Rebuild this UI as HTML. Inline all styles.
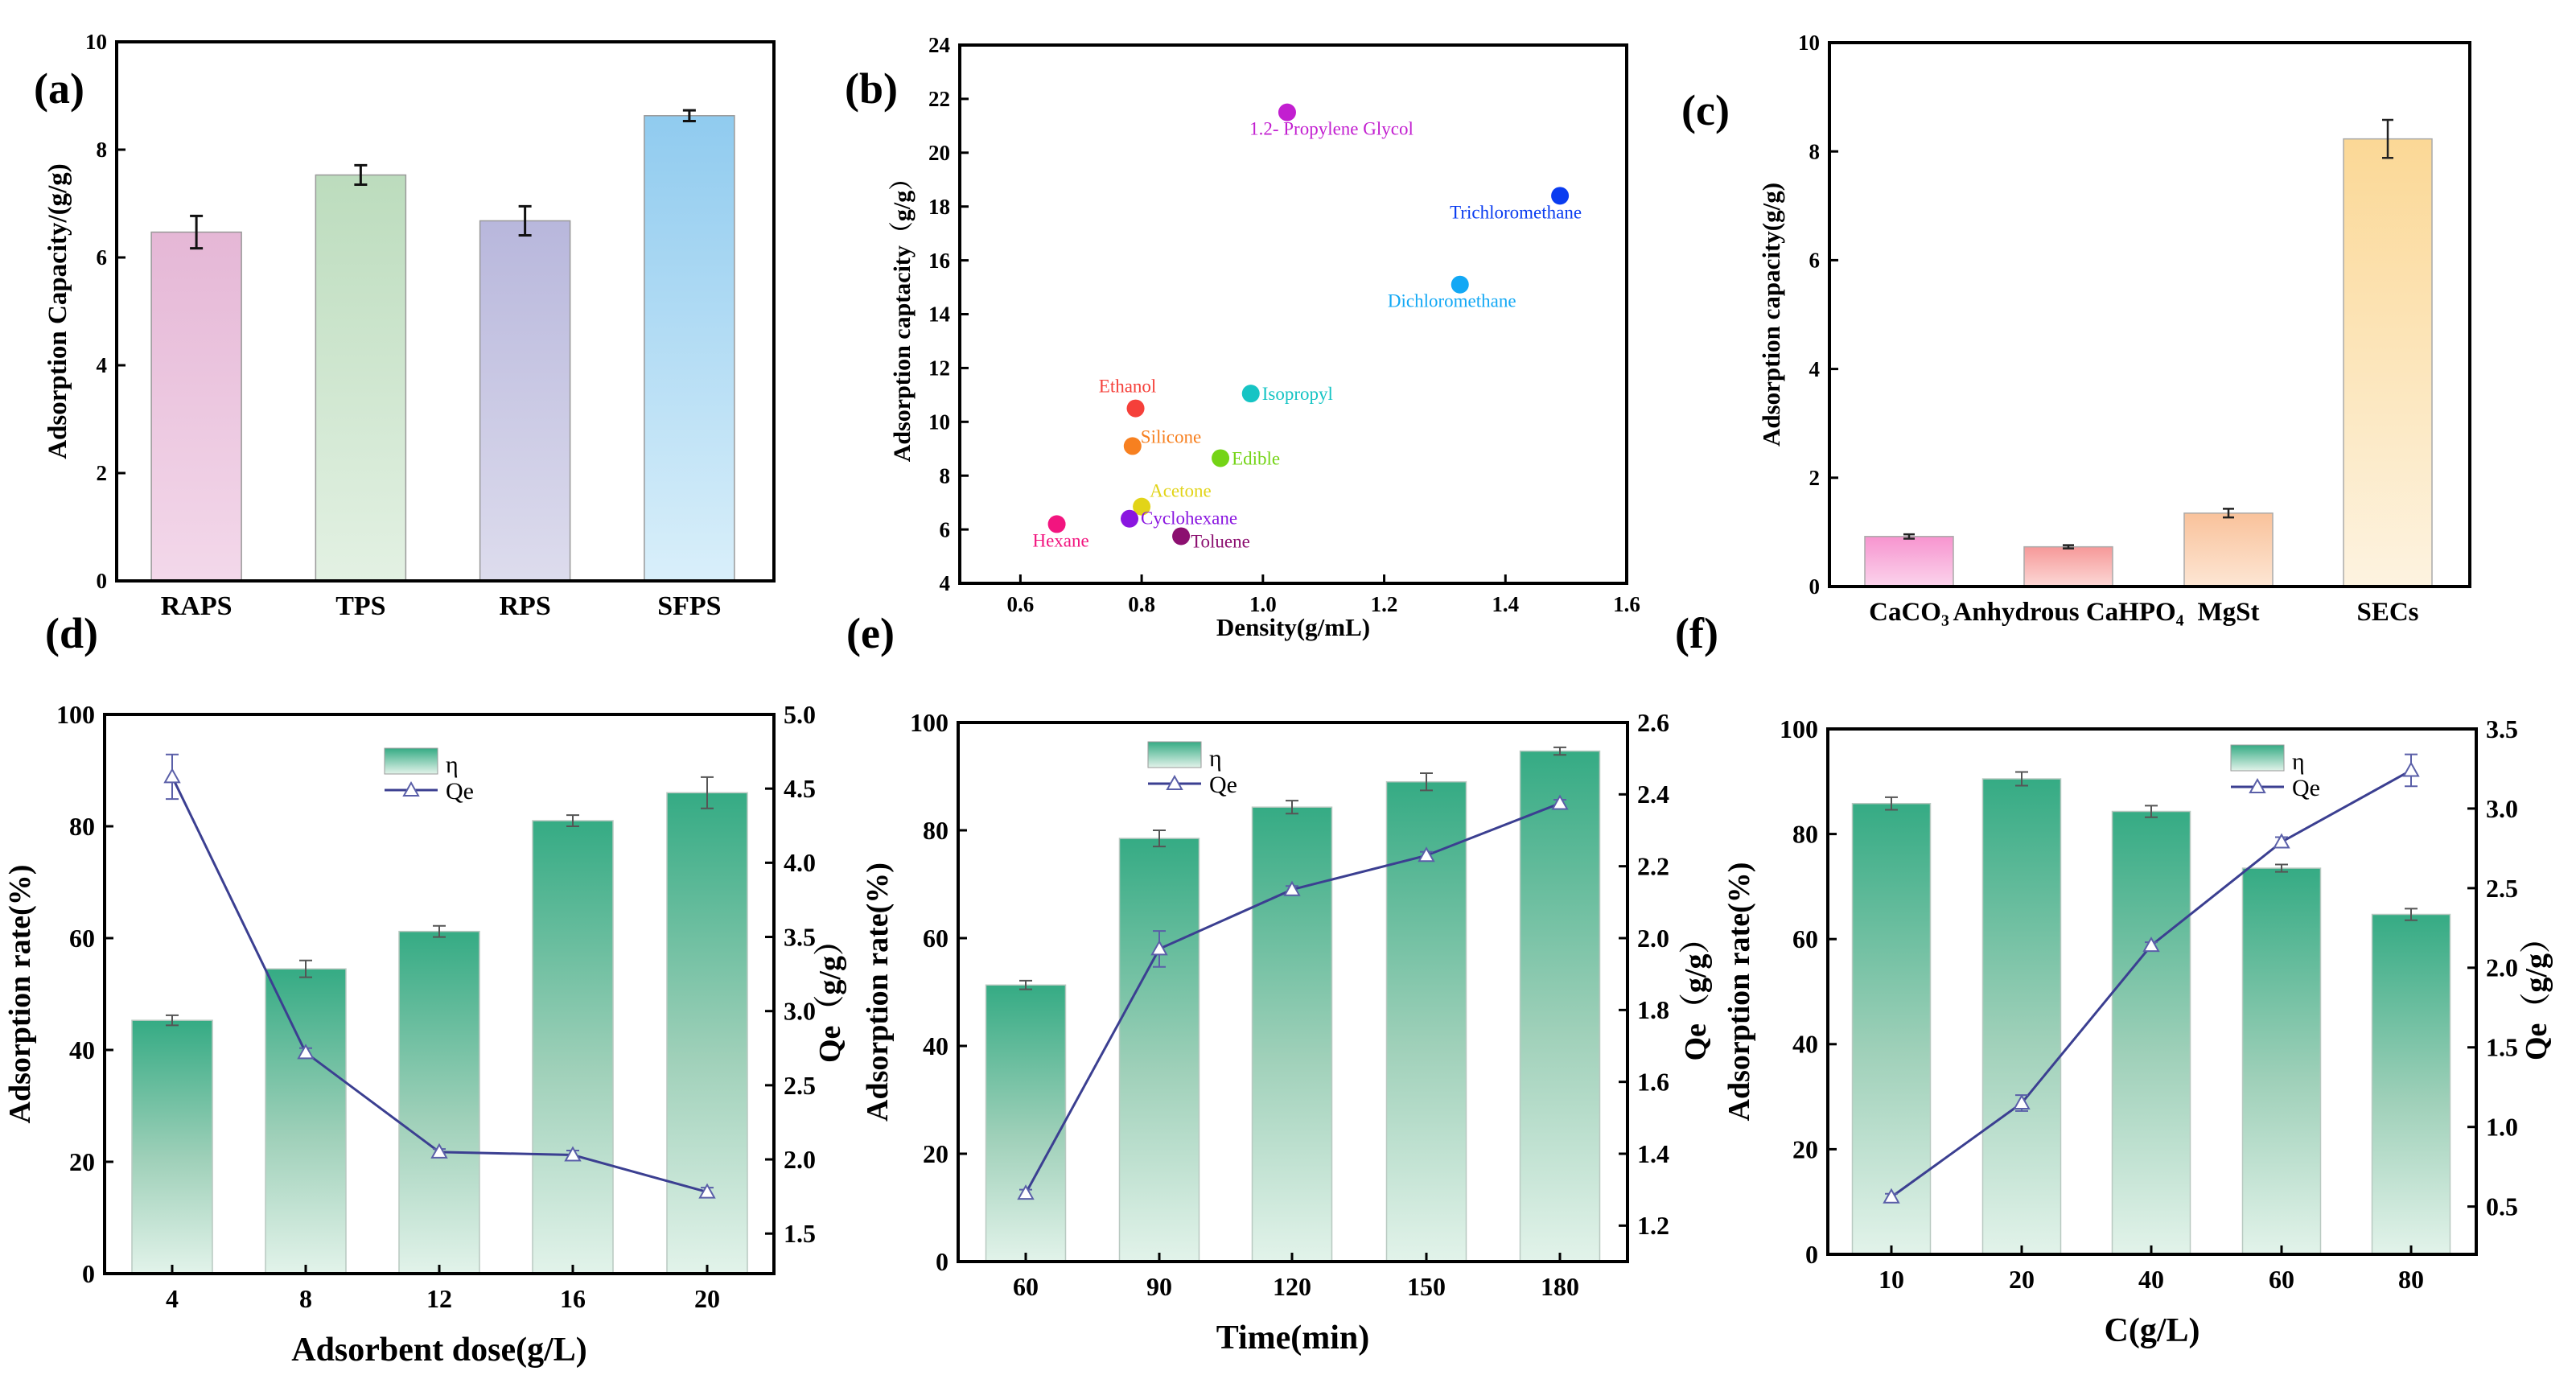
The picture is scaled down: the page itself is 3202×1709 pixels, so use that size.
<!DOCTYPE html>
<html><head><meta charset="utf-8"><style>
html,body{margin:0;padding:0;background:#fff}
svg{display:block;font-family:"Liberation Serif","Noto Serif CJK SC",serif}
</style></head><body>
<svg id="fig" width="3202" height="1709" viewBox="0 0 3202 1709" xmlns="http://www.w3.org/2000/svg">
<defs>
<linearGradient id="gA0" x1="0" y1="0" x2="0" y2="1"><stop offset="0" stop-color="#e5b7d6"/><stop offset="1" stop-color="#f3d8ea"/></linearGradient>
<linearGradient id="gA1" x1="0" y1="0" x2="0" y2="1"><stop offset="0" stop-color="#bcdcbd"/><stop offset="1" stop-color="#e3f1e3"/></linearGradient>
<linearGradient id="gA2" x1="0" y1="0" x2="0" y2="1"><stop offset="0" stop-color="#b8b7dc"/><stop offset="1" stop-color="#dddced"/></linearGradient>
<linearGradient id="gA3" x1="0" y1="0" x2="0" y2="1"><stop offset="0" stop-color="#90cbef"/><stop offset="1" stop-color="#d9effa"/></linearGradient>
<linearGradient id="gC0" x1="0" y1="0" x2="0" y2="1"><stop offset="0" stop-color="#f794cf"/><stop offset="1" stop-color="#fbd4ec"/></linearGradient>
<linearGradient id="gC1" x1="0" y1="0" x2="0" y2="1"><stop offset="0" stop-color="#f69999"/><stop offset="1" stop-color="#fcd8d6"/></linearGradient>
<linearGradient id="gC2" x1="0" y1="0" x2="0" y2="1"><stop offset="0" stop-color="#f9c29b"/><stop offset="1" stop-color="#fde6d4"/></linearGradient>
<linearGradient id="gC3" x1="0" y1="0" x2="0" y2="1"><stop offset="0" stop-color="#fbd896"/><stop offset="1" stop-color="#fdf3e0"/></linearGradient>
<linearGradient id="gG" x1="0" y1="0" x2="0" y2="1"><stop offset="0" stop-color="#35ab84"/><stop offset="0.55" stop-color="#9fd0b9"/><stop offset="1" stop-color="#e2f3ea"/></linearGradient>
<linearGradient id="gL" x1="0" y1="0" x2="0" y2="1"><stop offset="0" stop-color="#35ab84"/><stop offset="1" stop-color="#e2f3ea"/></linearGradient>
</defs>
</svg>
<script>
// ---------- data ----------
const aCats = ["RAPS","TPS","RPS","SFPS"];
const aVals = [6.47,7.53,6.68,8.63];
const aErrs = [0.3,0.18,0.27,0.1];
const aTicks = [0,2,4,6,8,10];

const bNames = ["1.2- Propylene Glycol","Trichloromethane","Dichloromethane","Isopropyl","Ethanol","Silicone","Edible","Acetone","Cyclohexane","Hexane","Toluene"];
const bX = [1.04,1.49,1.325,0.98,0.79,0.785,0.93,0.80,0.78,0.66,0.865];
const bY = [21.5,18.4,15.1,11.05,10.5,9.1,8.65,6.85,6.4,6.2,5.75];
const bColors = ["#c21fd0","#0a3cf0","#12a8f5","#16c4c4","#f5403a","#f78020","#74d416","#e2d418","#8a16e0","#f2157f","#8c0f70"];
const bXTicks = [0.6,0.8,1.0,1.2,1.4,1.6];
const bYTicks = [4,6,8,10,12,14,16,18,20,22,24];

const cCats = ["CaCO₃","Anhydrous CaHPO₄","MgSt","SECs"];
const cVals = [0.92,0.73,1.35,8.23];
const cErrs = [0.04,0.03,0.08,0.35];
const cTicks = [0,2,4,6,8,10];

const dCats = ["4","8","12","16","20"];
const dEta = [45.3,54.5,61.2,81.0,86.0];
const dEtaErr = [0.9,1.5,1.0,1.0,2.8];
const dQe = [4.58,2.72,2.05,2.03,1.78];
const dQeErr = [0.15,0.03,0.02,0.03,0.03];
const dRTicks = [1.5,2.0,2.5,3.0,3.5,4.0,4.5,5.0];

const eCats = ["60","90","120","150","180"];
const eEta = [51.3,78.5,84.3,89.0,94.7];
const eEtaErr = [0.8,1.5,1.2,1.6,0.7];
const eQe = [1.29,1.97,2.135,2.23,2.375];
const eQeErr = [0.01,0.05,0.01,0.01,0.01];
const eRTicks = [1.2,1.4,1.6,1.8,2.0,2.2,2.4,2.6];

const fCats = ["10","20","40","60","80"];
const fEta = [85.8,90.5,84.3,73.5,64.7];
const fEtaErr = [1.2,1.3,1.1,0.7,1.1];
const fQe = [0.56,1.15,2.14,2.79,3.24];
const fQeErr = [0.02,0.05,0.02,0.03,0.1];
const fRTicks = [0.5,1.0,1.5,2.0,2.5,3.0,3.5];

const etaTicks = [0,20,40,60,80,100];

// ---------- helpers ----------
const NS="http://www.w3.org/2000/svg";
const svg=document.getElementById('fig');
function mk(tag,attrs,parent,text){const e=document.createElementNS(NS,tag);for(const k in attrs)e.setAttribute(k,attrs[k]);if(text!==undefined)e.textContent=text;(parent||svg).appendChild(e);return e;}
function lin(d0,d1,r0,r1){return v=>r0+(v-d0)/(d1-d0)*(r1-r0);}
function group(name){const g=mk('g',{});


return g;}
function frame(g,L,T,R,B){const r=mk('rect',{x:L,y:T,width:R-L,height:B-T,fill:'none',stroke:'#000','stroke-width':4},g);

}
function yTicksLeft(g,ticks,sy,L,fs,fmt){ticks.forEach(t=>{const y=sy(t);
const l=mk('line',{x1:L,y1:y,x2:L+11,y2:y,stroke:'#000','stroke-width':3},g);


const tx=mk('text',{x:L-12,y:y+fs*0.34,'text-anchor':'end','font-size':fs,'font-weight':'bold'},g,fmt?fmt(t):String(t));

});}
function yTicksRight(g,ticks,sy,R,fs,fmt){ticks.forEach(t=>{const y=sy(t);
const l=mk('line',{x1:R-11,y1:y,x2:R,y2:y,stroke:'#000','stroke-width':3},g);


const tx=mk('text',{x:R+12,y:y+fs*0.34,'text-anchor':'start','font-size':fs,'font-weight':'bold'},g,fmt(t));

});}
function vTitle(g,x,y,fs,txt,name){const t=mk('text',{x:x,y:y,'text-anchor':'middle','font-size':fs,'font-weight':'bold',transform:`rotate(-90 ${x} ${y})`},g,txt);

}
function hText(g,x,y,fs,txt,name,extra){const t=mk('text',Object.assign({x:x,y:y,'text-anchor':'middle','font-size':fs,'font-weight':'bold'},extra||{}),g,txt);

return t;}
function errBar(g,x,y1,y2,hw,col,sw){
const e=mk('path',{d:`M${x},${y1}V${y2}M${x-hw},${y1}H${x+hw}M${x-hw},${y2}H${x+hw}`,stroke:col,'stroke-width':sw,fill:'none'},g);

}
function panelLabel(x,y,txt){const t=mk('text',{x:x,y:y,'font-size':54,'font-weight':'bold'},svg,txt);

}

// ---------- panel a ----------
(function(){const g=group('panel-a-chart');const L=145,R=962,T=52,B=722;
const sy=lin(0,10,B,T);const bw=(R-L)/4;
aCats.forEach((c,i)=>{const cx=L+bw*(i+0.5)-3;const y=sy(aVals[i]);
const r=mk('rect',{x:cx-56,y:y,width:112,height:B-y,fill:`url(#gA${i})`,stroke:'#999','stroke-width':1.5},g);


errBar(g,cx,sy(aVals[i]+aErrs[i]),sy(aVals[i]-aErrs[i]),8,'#111',3);
hText(g,cx,764,34,c,'x-category-label');});
frame(g,L,T,R,B);yTicksLeft(g,aTicks,sy,L,27);
vTitle(g,82,(T+B)/2,33,'Adsorption Capacity/(g/g)','y-axis-title');
panelLabel(42,128,'(a)');})();

// ---------- panel b ----------
(function(){const g=group('panel-b-scatter');const L=1193,R=2022,T=56,B=725;
const sx=lin(0.5,1.6,L,R),sy=lin(4,24,B,T);
frame(g,L,T,R,B);
bXTicks.forEach(t=>{const x=sx(t);
const l=mk('line',{x1:x,y1:B,x2:x,y2:B-11,stroke:'#000','stroke-width':3},g);


hText(g,x,B+35,27,t.toFixed(1),'x-tick-label');});
yTicksLeft(g,bYTicks,sy,L,27);
const off={"1.2- Propylene Glycol":[55,28,'middle'],"Trichloromethane":[-55,28,'middle'],"Dichloromethane":[-10,28,'middle'],"Isopropyl":[14,8,'start'],"Ethanol":[-10,-20,'middle'],"Silicone":[10,-4,'start'],"Edible":[14,8,'start'],"Acetone":[10,-12,'start'],"Cyclohexane":[14,7,'start'],"Hexane":[5,28,'middle'],"Toluene":[12,14,'start']};
bNames.forEach((n,i)=>{const x=sx(bX[i]),y=sy(bY[i]);
const c=mk('circle',{cx:x,cy:y,r:11,fill:bColors[i]},g);


const o=off[n];
const t=mk('text',{x:x+o[0],y:y+o[1],'text-anchor':o[2],'font-size':23,fill:bColors[i]},g,n);

});
vTitle(g,1131,(T+B)/2,30,'Adsorption captacity（g/g）','y-axis-title');
hText(g,(L+R)/2,790,31,'Density(g/mL)','x-axis-title');
panelLabel(1050,128,'(b)');})();

// ---------- panel c ----------
(function(){const g=group('panel-c-chart');const L=2274,R=3070,T=53,B=729;
const sy=lin(0,10,B,T);const bw=(R-L)/4;
cCats.forEach((c,i)=>{const cx=L+bw*(i+0.5)-25+ i*0;const centers=[2373,2571,2770,2968];const x0=centers[i];const y=sy(cVals[i]);
const r=mk('rect',{x:x0-55,y:y,width:110,height:B-y,fill:`url(#gC${i})`,stroke:'#aaa','stroke-width':1.5},g);


errBar(g,x0,sy(cVals[i]+cErrs[i]),sy(cVals[i]-cErrs[i]),7,'#222',2.5);});
hText(g,2373,771,33,'CaCO₃','x-category-label');
hText(g,2571,771,33,'Anhydrous CaHPO₄','x-category-label');
hText(g,2770,771,33,'MgSt','x-category-label');
hText(g,2968,771,33,'SECs','x-category-label');
frame(g,L,T,R,B);yTicksLeft(g,cTicks,sy,L,27);
vTitle(g,2212,(T+B)/2,31,'Adsorption capacity(g/g)','y-axis-title');
panelLabel(2090,155,'(c)');})();

// ---------- combo panels ----------
function combo(name,L,T,R,B,cats,eta,etaErr,qe,qeErr,r0,r1,rTicks,rFmt,centers,bwid,xTitle,leftTitleX,rightTitleX,legX,legY){
const g=group(name);const sy=lin(0,100,B,T),sr=lin(r0,r1,B,T);
cats.forEach((c,i)=>{const x=centers[i];const y=sy(eta[i]);
const r=mk('rect',{x:x-bwid/2,y:y,width:bwid,height:B-y,fill:'url(#gG)',stroke:'#b9c9c1','stroke-width':1.5},g);


errBar(g,x,sy(eta[i]+etaErr[i]),sy(eta[i]-etaErr[i]),8,'#555',2);});
const pts=qe.map((v,i)=>`${centers[i]},${sr(v)}`).join(' ');
const pl=mk('polyline',{points:pts,fill:'none',stroke:'#3b3f91','stroke-width':3},g);


qe.forEach((v,i)=>{const x=centers[i],y=sr(v);
errBar(g,x,sr(v+qeErr[i]),sr(v-qeErr[i]),8,'#5a5fa8',2);
const tr=mk('path',{d:`M${x},${y-9}L${x+9},${y+7}L${x-9},${y+7}Z`,fill:'#fff',stroke:'#5a5fa8','stroke-width':2},g);

});
frame(g,L,T,R,B);
centers.forEach((x,i)=>{const l=mk('line',{x1:x,y1:B,x2:x,y2:B-11,stroke:'#000','stroke-width':3},g);


hText(g,x,B+42,32,cats[i],'x-tick-label');});
yTicksLeft(g,etaTicks,sy,L,32);
yTicksRight(g,rTicks,sr,R,32,rFmt);
vTitle(g,leftTitleX,(T+B)/2,38,'Adsorption rate(%)','left-y-axis-title');
vTitle(g,rightTitleX,(T+B)/2,38,'Qe（g/g）','right-y-axis-title');
hText(g,(L+R)/2,B+108,42,xTitle,'x-axis-title');
const lg=group('legend');g.appendChild(lg);
const lr=mk('rect',{x:legX,y:legY,width:66,height:32,fill:'url(#gL)',stroke:'#999','stroke-width':1},lg);


const t1=mk('text',{x:legX+76,y:legY+30,'font-size':30},lg,'η');


const ly=legY+52;
const ll=mk('line',{x1:legX,y1:ly,x2:legX+66,y2:ly,stroke:'#3b3f91','stroke-width':3},lg);


const mx=legX+33;
const lm=mk('path',{d:`M${mx},${ly-9}L${mx+9},${ly+7}L${mx-9},${ly+7}Z`,fill:'#fff',stroke:'#5a5fa8','stroke-width':2},lg);


const t2=mk('text',{x:legX+76,y:ly+11,'font-size':30},lg,'Qe');


}
combo('panel-d-chart',130,888,962,1583,dCats,dEta,dEtaErr,dQe,dQeErr,1.23,5.0,dRTicks,v=>v.toFixed(1),[214,380,546,712,879],100,'Adsorbent dose(g/L)',37,1044,478,930);
combo('panel-e-chart',1191,898,2023,1568,eCats,eEta,eEtaErr,eQe,eQeErr,1.1,2.6,eRTicks,v=>v.toFixed(1),[1275,1441,1606,1773,1939],99,'Time(min)',1103,2120,1427,922);
combo('panel-f-chart',2272,906,3078,1559,fCats,fEta,fEtaErr,fQe,fQeErr,0.2,3.5,fRTicks,v=>v.toFixed(1),[2351,2513,2674,2836,2997],97,'C(g/L)',2174,3165,2773,926);
panelLabel(56,805,'(d)');
panelLabel(1052,805,'(e)');
panelLabel(2082,805,'(f)');
</script>
</body></html>
